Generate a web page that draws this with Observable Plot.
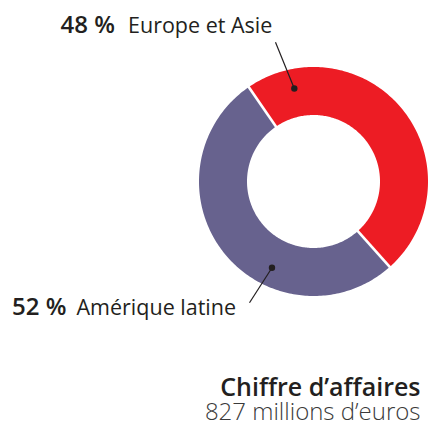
<!DOCTYPE html>
<html>
<head>
<meta charset="utf-8">
<script src="https://cdn.jsdelivr.net/npm/d3@7"></script>
<script src="https://cdn.jsdelivr.net/npm/@observablehq/plot@0.6"></script>
<style>
  html, body { margin: 0; padding: 0; background: #fff; }
  svg { display: block; }
</style>
</head>
<body>
<div id="chart"></div>
<script>
// ---- data ----
const regions = ["Europe et Asie", "Amérique latine"];
const shares = [48, 52];
const colors = ["#ED1C24", "#67628E"];
const captionTitle = "Chiffre d’affaires";
const captionValue = "827 millions d’euros";

// ---- layout ----
const W = 428, H = 426;
const cx = 313.5, cy = 181.5, rOuter = 114.5, rInner = 66.5;
const startDeg = -34.5;           // where the first slice begins (clockwise from 12 o'clock)
const rad = d => d * Math.PI / 180;
const px = (r, a) => cx + r * Math.sin(rad(a));
const py = (r, a) => cy - r * Math.cos(rad(a));

const total = d3.sum(shares);
let acc = startDeg;
const slices = shares.map((v, i) => {
  const a0 = acc, a1 = acc + v / total * 360;
  acc = a1;
  return {name: regions[i], value: v, color: colors[i], a0, a1};
});

// sample each slice's arc for the area mark
const arcPoints = s => {
  const n = Math.max(2, Math.ceil(s.a1 - s.a0));
  return d3.range(n + 1).map(k => {
    const a = s.a0 + (s.a1 - s.a0) * k / n;
    return {xi: px(rInner, a), yi: py(rInner, a), xo: px(rOuter, a), yo: py(rOuter, a)};
  });
};

// boundaries between slices (white gaps)
const gaps = slices.map(s => ({x1: px(rInner - 2, s.a0), y1: py(rInner - 2, s.a0), x2: px(rOuter + 2, s.a0), y2: py(rOuter + 2, s.a0)}));

// leader lines: dot on the ring -> end near label
const leaders = [
  {a: -11.9, r: 95.5, ex: 275, ey: 41.7},
  {a: 206.1, r: 95.5, ex: 249, ey: 302.3}
].map(d => ({x1: px(d.r, d.a), y1: py(d.r, d.a), x2: d.ex, y2: d.ey}));

const labels = [
  {pct: `${shares[0]} %`, name: regions[0], xb: 60, xn: 127.5, y: 33},
  {pct: `${shares[1]} %`, name: regions[1], xb: 11.5, xn: 76, y: 315}
];

const font = "'Open Sans', sans-serif";
const ink = "#231F20";

const plot = Plot.plot({
  width: W, height: H,
  margin: 0,
  x: {domain: [0, W], range: [0, W], axis: null},
  y: {domain: [0, H], range: [0, H], axis: null},
  marks: [
    ...slices.map(s => Plot.area(arcPoints(s), {x1: "xi", y1: "yi", x2: "xo", y2: "yo", fill: s.color})),
    Plot.link(gaps, {x1: "x1", y1: "y1", x2: "x2", y2: "y2", stroke: "#fff", strokeWidth: 2.6}),
    Plot.link(leaders, {x1: "x1", y1: "y1", x2: "x2", y2: "y2", stroke: ink, strokeWidth: 1.2}),
    Plot.dot(leaders, {x: "x1", y: "y1", r: 3.2, fill: ink, stroke: null}),
    Plot.text(labels, {x: "xb", y: "y", text: "pct", textAnchor: "start", fontSize: 24, fontWeight: 600, fontFamily: font, fill: ink, dy: -8.5}),
    Plot.text(labels, {x: "xn", y: "y", text: "name", textAnchor: "start", fontSize: 21.5, fontWeight: 400, fontFamily: font, fill: ink, dy: -7.5}),
    Plot.text([captionTitle], {x: 420, y: 396, text: d => d, textAnchor: "end", fontSize: 25, fontWeight: 600, fontFamily: font, fill: ink, dy: -9}),
    Plot.text([captionValue], {x: 420, y: 420, text: d => d, textAnchor: "end", fontSize: 24, fontWeight: 300, fontFamily: font, fill: "#3a3a3a", dy: -8.3})
  ]
});
document.getElementById("chart").appendChild(plot);
</script>
</body>
</html>
